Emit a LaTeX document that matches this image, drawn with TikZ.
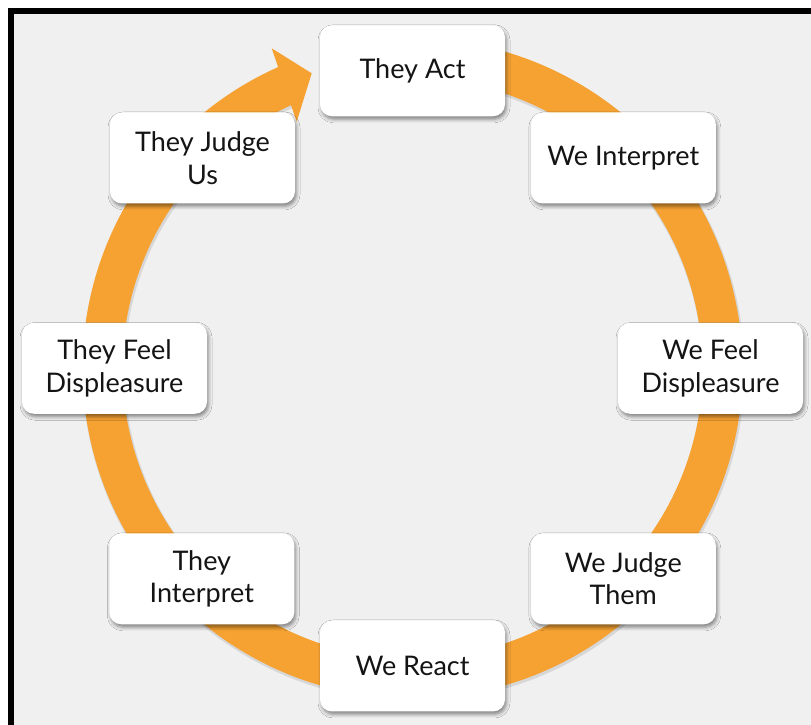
\documentclass[tikz,border=0pt]{standalone}
\usepackage{fontspec}
\setmainfont{Lato}
\usetikzlibrary{shadows.blur,calc}
\definecolor{ringorange}{RGB}{245,162,51}
\definecolor{bggray}{RGB}{240,240,240}
\definecolor{txt}{RGB}{20,20,20}
\tikzset{
  stepbox/.style={fill=white, draw=none, rounded corners=12pt,
    minimum width=185pt, minimum height=91pt, inner sep=0pt, align=center,
    text=txt, font=\fontsize{27}{32.5}\selectfont,
    blur shadow={shadow xshift=1.5pt, shadow yshift=-3pt, shadow blur radius=3.5pt, shadow opacity=45}},
  ring/.style={draw=ringorange, line width=40pt},
  ringshadow/.style={draw=black, opacity=0.10, line width=42pt}
}
\begin{document}
\begin{tikzpicture}[x=1pt,y=1pt]
\useasboundingbox (0,0) rectangle (811,725);
\fill[white] (0,0) rectangle (811,725);
\fill[black] (8,0) rectangle (811,717);
\fill[bggray] (14,0) rectangle (811,711);
\coordinate (c) at (412.5,356.5);
% ring shadow
\draw[ringshadow] ($(c)+(1,-2)+(100:310)$) arc[start angle=100, end angle=-247, radius=310];
% ring
\draw[ring] ($(c)+(100:310)$) arc[start angle=100, end angle=-247, radius=310];
\coordinate (h1) at ($(c)+(-140.8,320.2)$);
\coordinate (h2) at ($(c)+(-100.8,295.2)$);
\coordinate (h3) at ($(c)+(-115.8,246.8)$);
\fill[ringorange] (h1) -- (h2) -- (h3) -- cycle;
% boxes
\node[stepbox] (ta) at (412.5,654.2) {They Act};
\node[stepbox] (wi) at (623.3,567) {We Interpret};
\node[stepbox] (wf) at (710.5,356.7) {We Feel\\Displeasure};
\node[stepbox] (wj) at (623.3,146.2) {We Judge\\Them};
\node[stepbox] (wr) at (412.5,59) {We React};
\node[stepbox] (ti) at (201.8,146.2) {They\\Interpret};
\node[stepbox] (tf) at (114.5,356.7) {They Feel\\Displeasure};
\node[stepbox] (tj) at (202.5,567) {They Judge\\Us};
\end{tikzpicture}
\end{document}
